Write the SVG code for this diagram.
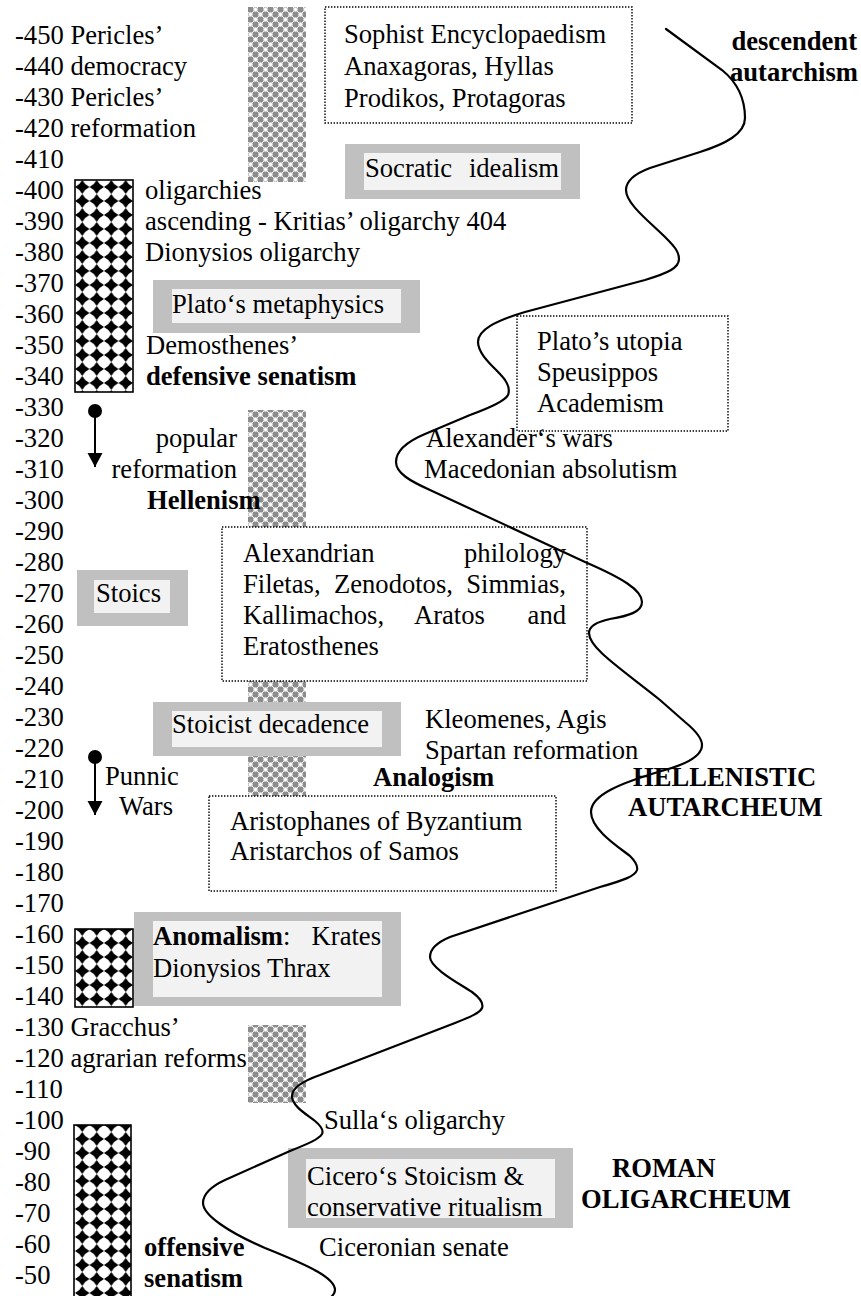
<svg xmlns="http://www.w3.org/2000/svg" width="861" height="1296" viewBox="0 0 861 1296">
  <style>
    .t { font-family: "Liberation Serif", "Times New Roman", serif; font-size: 26.6px; fill: #000; }
    .b { font-weight: bold; }
    .e { text-anchor: end; }
    .dot { fill: #fff; stroke: #000; stroke-width: 1.4; stroke-dasharray: 1.4 1.6; }
    .gout { fill: #c0c0c0; }
    .gin { fill: #f2f2f2; }
    .blk { fill: url(#diamonds); stroke: #000; stroke-width: 1.6; }
    .gry { fill: url(#greyCheck); }
    .wave { fill: none; stroke: #000; stroke-width: 2.2; stroke-linecap: round; }
    .arr { stroke: #000; stroke-width: 2; fill: none; marker-start: url(#knob); marker-end: url(#tri); }
  </style>
  <defs>
    <!-- black diamond checker used for the oligarchy / senatism bars -->
    <pattern id="diamonds" patternUnits="userSpaceOnUse" x="75" y="180" width="14.5" height="14">
      <rect width="14.5" height="14" fill="#fff"/>
      <path d="M7.25,0 Q9.6,4.6 14.5,7 Q9.6,9.4 7.25,14 Q4.9,9.4 0,7 Q4.9,4.6 7.25,0 Z" fill="#000"/>
    </pattern>
    <!-- fine grey checker used for the philosophy bars -->
    <pattern id="greyCheck" patternUnits="userSpaceOnUse" x="248" y="7" width="10" height="10">
      <rect width="10" height="10" fill="#fff"/>
      <rect x="0" y="0" width="5" height="5" fill="#8c8c8c"/>
      <rect x="5" y="5" width="5" height="5" fill="#8c8c8c"/>
      <circle cx="7.5" cy="2.5" r="2.2" fill="none" stroke="#9a9a9a" stroke-width="0.7"/>
      <circle cx="2.5" cy="7.5" r="2.2" fill="none" stroke="#9a9a9a" stroke-width="0.7"/>
    </pattern>
    <marker id="knob" markerUnits="userSpaceOnUse" markerWidth="16" markerHeight="16" refX="8" refY="8" orient="auto">
      <circle cx="8" cy="8" r="7" fill="#000"/>
    </marker>
    <marker id="tri" markerUnits="userSpaceOnUse" markerWidth="16" markerHeight="16" refX="14" refY="8" orient="auto">
      <path d="M0,0.5 L14,8 L0,15.5 Z" fill="#000"/>
    </marker>
  </defs>

  <rect width="861" height="1296" fill="#fff"/>

  <!-- time axis -->
  <g id="timeline" class="t">
    <text x="15" y="44">-450 Pericles’</text>
    <text x="15" y="75">-440 democracy</text>
    <text x="15" y="106">-430 Pericles’</text>
    <text x="15" y="137">-420 reformation</text>
    <text x="15" y="168">-410</text>
    <text x="15" y="199">-400</text>
    <text x="15" y="230">-390</text>
    <text x="15" y="261">-380</text>
    <text x="15" y="292">-370</text>
    <text x="15" y="323">-360</text>
    <text x="15" y="354">-350</text>
    <text x="15" y="385">-340</text>
    <text x="15" y="416">-330</text>
    <text x="15" y="447">-320</text>
    <text x="15" y="478">-310</text>
    <text x="15" y="509">-300</text>
    <text x="15" y="540">-290</text>
    <text x="15" y="571">-280</text>
    <text x="15" y="602">-270</text>
    <text x="15" y="633">-260</text>
    <text x="15" y="664">-250</text>
    <text x="15" y="695">-240</text>
    <text x="15" y="726">-230</text>
    <text x="15" y="757">-220</text>
    <text x="15" y="788">-210</text>
    <text x="15" y="819">-200</text>
    <text x="15" y="850">-190</text>
    <text x="15" y="881">-180</text>
    <text x="15" y="912">-170</text>
    <text x="15" y="943">-160</text>
    <text x="15" y="974">-150</text>
    <text x="15" y="1005">-140</text>
    <text x="15" y="1036">-130 Gracchus’</text>
    <text x="15" y="1067">-120 agrarian reforms</text>
    <text x="15" y="1098">-110</text>
    <text x="15" y="1129">-100</text>
    <text x="15" y="1160">-90</text>
    <text x="15" y="1191">-80</text>
    <text x="15" y="1222">-70</text>
    <text x="15" y="1253">-60</text>
    <text x="15" y="1284">-50</text>
  </g>

  <!-- patterned period bars -->
  <g id="bar-philosophy-1"><rect class="gry" x="248" y="7" width="58" height="175"/></g>
  <g id="bar-philosophy-2"><rect class="gry" x="248" y="410" width="58" height="386"/></g>
  <g id="bar-philosophy-3"><rect class="gry" x="248" y="1025" width="58" height="78"/></g>
  <g id="bar-oligarchy-1"><rect class="blk" x="75" y="180" width="58" height="212"/></g>
  <g id="bar-oligarchy-2"><rect class="blk" x="75" y="929" width="58" height="78"/></g>
  <g id="bar-oligarchy-3"><rect class="blk" x="74" y="1125" width="57" height="180"/></g>

  <!-- dotted boxes -->
  <g id="sophists">
    <rect class="dot" x="325" y="7" width="307" height="116"/>
    <text class="t" x="344" y="43">Sophist Encyclopaedism</text>
    <text class="t" x="344" y="75">Anaxagoras, Hyllas</text>
    <text class="t" x="344" y="107">Prodikos, Protagoras</text>
  </g>
  <g id="plato-utopia">
    <rect class="dot" x="517" y="316" width="211" height="115"/>
    <text class="t" x="537" y="350">Plato’s utopia</text>
    <text class="t" x="537" y="381">Speusippos</text>
    <text class="t" x="537" y="412">Academism</text>
  </g>
  <g id="alexandrian">
    <rect class="dot" x="222" y="527" width="365" height="154"/>
    <text class="t" x="243" y="562">Alexandrian</text>
    <text class="t e" x="566" y="562">philology</text>
    <text class="t" x="243" y="593">Filetas,</text>
    <text class="t" x="334" y="593">Zenodotos,</text>
    <text class="t e" x="566" y="593">Simmias,</text>
    <text class="t" x="243" y="624">Kallimachos,</text>
    <text class="t" x="414" y="624">Aratos</text>
    <text class="t e" x="566" y="624">and</text>
    <text class="t" x="243" y="655">Eratosthenes</text>
  </g>
  <g id="byzantium">
    <rect class="dot" x="209" y="796" width="347" height="95"/>
    <text class="t" x="230" y="830">Aristophanes of Byzantium</text>
    <text class="t" x="230" y="860">Aristarchos of Samos</text>
  </g>

  <!-- grey framed boxes -->
  <g id="socratic">
    <rect class="gout" x="345" y="144" width="235" height="55"/>
    <rect class="gin" x="364" y="153" width="197" height="37"/>
    <text class="t" x="365" y="177">Socratic</text>
    <text class="t e" x="559" y="177">idealism</text>
  </g>
  <g id="plato-metaphysics">
    <rect class="gout" x="153" y="280" width="267" height="53"/>
    <rect class="gin" x="172" y="289" width="229" height="34"/>
    <text class="t" x="172" y="313">Plato‘s metaphysics</text>
  </g>
  <g id="stoics">
    <rect class="gout" x="77" y="570" width="111" height="56"/>
    <rect class="gin" x="94" y="580" width="76" height="33"/>
    <text class="t" x="96" y="602">Stoics</text>
  </g>
  <g id="stoicist-decadence">
    <rect class="gout" x="153" y="702" width="248" height="54"/>
    <rect class="gin" x="172" y="711" width="210" height="36"/>
    <text class="t" x="172" y="733">Stoicist decadence</text>
  </g>
  <g id="anomalism">
    <rect class="gout" x="134" y="912" width="267" height="94"/>
    <rect class="gin" x="153" y="921" width="229" height="76"/>
    <text class="t" x="153" y="945"><tspan class="b">Anomalism</tspan>:</text>
    <text class="t e" x="381" y="945">Krates</text>
    <text class="t" x="153" y="977">Dionysios Thrax</text>
  </g>
  <g id="cicero">
    <rect class="gout" x="288" y="1148" width="285" height="80"/>
    <rect class="gin" x="306" y="1159" width="249" height="59"/>
    <text class="t" x="307" y="1185">Cicero‘s Stoicism &amp;</text>
    <text class="t" x="307" y="1216">conservative ritualism</text>
  </g>

  <!-- the winding course of autarchism -->
  <g id="autarchy-wave">
    <path class="wave" d="M666,29 L722,70 C738,83 745,100 745,118 C745,134 725,144 700,152 L650,168 C634,174 626,181 626,190 C626,204 650,222 666,238 C675,247 679,252 679,259 C679,268 668,273 645,280 L525,312 C495,321 478,330 478,342 C478,356 498,370 505,380 C509,386 510,390 508,395 C505,401 492,407 470,415 L425,434 C406,442 396,451 396,462 C396,473 410,481 430,490 L585,562 C622,578 642,590 642,602 C642,612 628,616 610,619 C596,622 589,626 589,633 C589,648 620,668 660,700 L685,722 C696,731 702,738 702,745 C702,755 690,763 665,770 C620,783 591,795 591,812 C591,830 620,848 630,856 C636,862 638,866 637,870 C635,876 625,880 600,887 L450,937 C438,942 430,948 430,957 C430,968 460,984 472,992 C480,998 484,1003 482,1008 C480,1013 470,1017 455,1023 L320,1075 C303,1081 292,1088 292,1096 C292,1106 306,1114 315,1121 C321,1126 324,1130 322,1134 C319,1139 310,1143 290,1151 L225,1180 C210,1187 203,1195 203,1203 C203,1215 228,1232 265,1248 C310,1266 335,1278 335,1290 C335,1297 325,1302 315,1306"/>
  </g>

  <!-- loose labels -->
  <g id="oligarchies" class="t">
    <text x="145" y="199">oligarchies</text>
    <text x="145" y="230">ascending - Kritias’ oligarchy 404</text>
    <text x="145" y="261">Dionysios oligarchy</text>
  </g>
  <g id="demosthenes" class="t">
    <text x="146" y="354">Demosthenes’</text>
    <text class="b" x="146" y="385">defensive senatism</text>
  </g>
  <g id="popular-reformation" class="t">
    <text class="e" x="237" y="447">popular</text>
    <text class="e" x="237" y="478">reformation</text>
    <text class="b" x="147" y="509">Hellenism</text>
  </g>
  <g id="alexander" class="t">
    <text x="426" y="447">Alexander‘s wars</text>
    <text x="424" y="478">Macedonian absolutism</text>
  </g>
  <g id="sparta" class="t">
    <text x="425" y="728">Kleomenes, Agis</text>
    <text x="425" y="759">Spartan reformation</text>
  </g>
  <g id="analogism" class="t b"><text x="373" y="786">Analogism</text></g>
  <g id="punic-wars" class="t">
    <text x="105" y="785">Punnic</text>
    <text x="119" y="815">Wars</text>
  </g>
  <g id="hellenistic-autarcheum" class="t b">
    <text x="633" y="786">HELLENISTIC</text>
    <text x="628" y="816">AUTARCHEUM</text>
  </g>
  <g id="descendent-autarchism" class="t b">
    <text class="e" x="857" y="50">descendent</text>
    <text class="e" x="858" y="81">autarchism</text>
  </g>
  <g id="sulla" class="t"><text x="324" y="1129">Sulla‘s oligarchy</text></g>
  <g id="ciceronian-senate" class="t"><text x="319" y="1256">Ciceronian senate</text></g>
  <g id="offensive-senatism" class="t b">
    <text x="144" y="1256">offensive</text>
    <text x="144" y="1287">senatism</text>
  </g>
  <g id="roman-oligarcheum" class="t b">
    <text x="612" y="1177">ROMAN</text>
    <text x="581" y="1208">OLIGARCHEUM</text>
  </g>

  <!-- connectors -->
  <g id="connectors">
    <line class="arr" x1="95" y1="411" x2="95" y2="467"/>
    <line class="arr" x1="95" y1="757" x2="95" y2="815"/>
  </g>
</svg>
